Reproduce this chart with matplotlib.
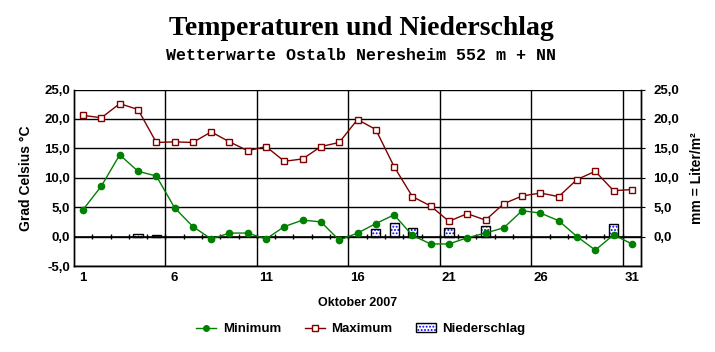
import matplotlib
matplotlib.use("Agg")
import matplotlib.pyplot as plt
import numpy as np
from matplotlib.patches import Patch
from matplotlib.lines import Line2D
from matplotlib.legend_handler import HandlerTuple
from matplotlib.ticker import FuncFormatter

# ── data (Oktober 2007) ───────────────────────────────────────────────────
days = list(range(1, 32))
t_min = [4.6, 8.6, 13.9, 11.1, 10.3, 4.9, 1.7, -0.4, 0.6, 0.6,
         -0.4, 1.7, 2.8, 2.5, -0.6, 0.6, 2.2, 3.7, 0.2, -1.25,
         -1.25, -0.2, 0.6, 1.5, 4.4, 4.0, 2.7, 0.0, -2.3, 0.3, -1.25]
t_max = [20.6, 20.2, 22.6, 21.6, 16.0, 16.1, 16.0, 17.8, 16.1, 14.6,
         15.3, 12.8, 13.2, 15.3, 16.0, 19.9, 18.2, 11.9, 6.8, 5.2,
         2.6, 3.9, 2.8, 5.6, 6.9, 7.4, 6.8, 9.7, 11.1, 7.8, 8.0]
rain = [0, 0, 0, 0.4, 0.3, 0, 0, 0, 0, 0,
        0, 0, 0, 0, 0, 0, 1.3, 2.3, 1.5, 0,
        1.5, 0, 1.8, 0, 0, 0, 0, 0, 0, 2.2, 0]
day_labels = ["1", "6", "11", "16", "21", "26", "31"]

GREEN = "#008000"
RED = "#800000"
BLUE = "#0000ff"

plt.rcParams["font.family"] = ["Liberation Sans", "DejaVu Sans"]
plt.rcParams["hatch.linewidth"] = 0.9

fig = plt.figure(figsize=(7.15, 3.52), dpi=100)
ax = fig.add_axes([0.1035, 0.2443, 0.793, 0.5014])
ax2 = ax.twinx()

fmt = FuncFormatter(lambda v, p: f"{v:.1f}".replace(".", ","))

# precipitation bars on the right axis (drawn below the lines)
x = np.array(days)
r = np.array(rain)
mask = r > 0
ax2.bar(x[mask], r[mask], width=0.5, color="white", edgecolor=BLUE,
        hatch=".....", linewidth=0, zorder=2)
ax2.bar(x[mask], r[mask], width=0.5, fill=False, edgecolor="black",
        linewidth=1, zorder=3)
ax2.set_ylim(-5, 25)
ax2.set_yticks([0, 5, 10, 15, 20, 25])
ax2.yaxis.set_major_formatter(fmt)
ax2.set_ylabel("mm = Liter/m²", fontsize=10, fontweight="bold", labelpad=8)

ax.set_zorder(ax2.get_zorder() + 1)
ax.patch.set_visible(False)

# temperature lines
ax.plot(days, t_min, color=GREEN, lw=1, marker="o", ms=4.5,
        mfc=GREEN, mec=GREEN, zorder=5)
ax.plot(days, t_max, color=RED, lw=1, marker="s", ms=5,
        mfc="white", mec=RED, mew=1, zorder=5)

ax.set_xlim(0.5, 31.5)
ax.set_ylim(-5, 25)
ax.set_yticks(np.arange(-5, 26, 5))
ax.yaxis.set_major_formatter(fmt)
ax.set_xticks([1, 6, 11, 16, 21, 26, 31])
ax.set_xticklabels(day_labels)
ax.set_xticks(np.arange(5.5, 31, 5), minor=True)
ax.tick_params(axis="x", which="both", length=0, pad=4)
ax.tick_params(axis="y", length=0, pad=3)
ax2.tick_params(axis="y", length=3, pad=6)
ax.grid(axis="y", color="black", lw=1)
ax.grid(axis="x", which="minor", color="black", lw=1)
ax.set_axisbelow(False)

# small ticks along the zero line
ax.vlines(np.arange(1.5, 31, 1), -0.4, 0.4, color="black", lw=1, zorder=4)
ax.axhline(0, color="black", lw=1.2, zorder=4)

for a in (ax, ax2):
    for lbl in a.get_xticklabels() + a.get_yticklabels():
        lbl.set_fontweight("bold")
        lbl.set_fontsize(9.5)
    for s in a.spines.values():
        s.set_linewidth(1)
    a.spines["top"].set_visible(False)

ax.set_ylabel("Grad Celsius °C", fontsize=10, fontweight="bold", labelpad=8)
ax.set_xlabel("Oktober 2007", fontsize=9, fontweight="bold", labelpad=10)

fig.text(0.505, 0.9, "Temperaturen und Niederschlag", ha="center",
         fontsize=20, fontweight="bold", family="Liberation Serif")
fig.text(0.505, 0.83, "Wetterwarte Ostalb Neresheim 552 m + NN", ha="center",
         fontsize=12, fontweight="bold", family="Liberation Mono")

h_min = Line2D([], [], color=GREEN, lw=1, marker="o", ms=4, mfc=GREEN)
h_max = Line2D([], [], color=RED, lw=1, marker="s", ms=4.5, mfc="white")
h_rain = (Patch(facecolor="white", edgecolor=BLUE, hatch=".....", lw=0),
          Patch(fill=False, edgecolor="black", lw=1))
fig.legend([h_min, h_max, h_rain], ["Minimum", "Maximum", "Niederschlag"],
           loc="center", bbox_to_anchor=(0.505, 0.065), ncol=3, frameon=False,
           prop={"weight": "bold", "size": 9.5}, handlelength=1.5,
           handletextpad=0.5, columnspacing=1.8,
           handler_map={tuple: HandlerTuple(ndivide=1)})

fig.savefig("out.png", dpi=100)
